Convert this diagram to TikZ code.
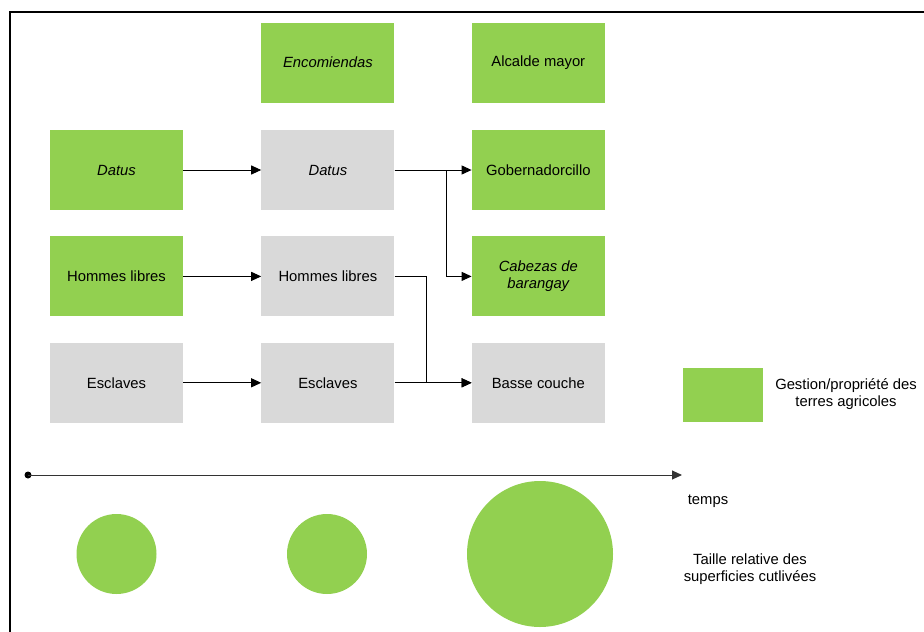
\documentclass[tikz,border=0pt]{standalone}
\usepackage{fontspec}
\setmainfont{Liberation Sans}
\usetikzlibrary{arrows.meta,positioning}
\definecolor{landgreen}{HTML}{92D050}
\definecolor{softgray}{HTML}{D9D9D9}
\definecolor{darkgray}{HTML}{333333}

\begin{document}
\begin{tikzpicture}[
  x=1pt, y=1pt,
  every node/.style={font=\fontsize{14.8}{17.5}\selectfont},
  box/.style={inner sep=0pt, minimum width=133pt, minimum height=80pt, align=center},
  gr/.style ={box, fill=landgreen},
  gy/.style ={box, fill=softgray},
  ar/.style ={-{Triangle[length=10pt,width=9pt]}, line width=1pt, draw=black},
  disc/.style={circle, fill=landgreen, inner sep=0pt}
]
  \useasboundingbox (0,0) rectangle (924,-632);
  \draw[line width=2pt] (10,-632) -- (10,-12) -- (924,-12);
  % column 1
  \node[gr] (da1) at (116.5,-170) {\itshape Datus};
  \node[gr, below=26pt of da1] (hl1) {Hommes libres};
  \node[gy, below=26pt of hl1] (es1) {Esclaves};
  % column 2
  \node[gy, right=78pt of da1] (da2) {\itshape Datus};
  \node[gr, above=27pt of da2] (en2) {\itshape Encomiendas};
  \node[gy, right=78pt of hl1] (hl2) {Hommes libres};
  \node[gy, right=78pt of es1] (es2) {Esclaves};
  % column 3
  \node[gr, right=77pt of da2] (go3) {Gobernadorcillo};
  \node[gr, above=27pt of go3] (am3) {Alcalde mayor};
  \node[gr, right=77pt of hl2] (ca3) {\itshape Cabezas de\\\itshape barangay};
  \node[gy, right=77pt of es2] (bc3) {Basse couche};
  % legend
  \node[fill=landgreen, minimum width=80pt, minimum height=54pt, inner sep=0pt] (lg) at (723,-395) {};
  \node[align=center] (lgt) at (846,-394) {Gestion/propriété des\\terres agricoles};
  \draw[ar] (da1) -- (da2);
  \draw[ar] (hl1) -- (hl2);
  \draw[ar] (es1) -- (es2);
  \draw[ar] (da2) -- (go3);
  \draw[ar] (da2.east) -- ++(52,0) |- (ca3.west);
  \draw[ar] (hl2.east) -- ++(32,0) |- (bc3.west);
  \draw[ar] (es2) -- (bc3);
  % time axis
  \coordinate (t0) at (28,-475);
  \coordinate (t1) at (682,-475);
  \fill (t0) circle (3.5pt);
  \draw[ar, draw=darkgray] (t0) -- (t1);
  \node (tm) at (708,-501) {temps};
  % relative areas
  \node[disc, minimum size=80pt] (c1) at (116.5,-554) {};
  \node[disc, minimum size=80pt] (c2) at (327,-554) {};
  \node[disc, minimum size=146pt] (c3) at (540,-554) {};
  \node[align=center] (ct) at (750,-569) {Taille relative des\\superficies cutlivées};
\end{tikzpicture}
\end{document}
